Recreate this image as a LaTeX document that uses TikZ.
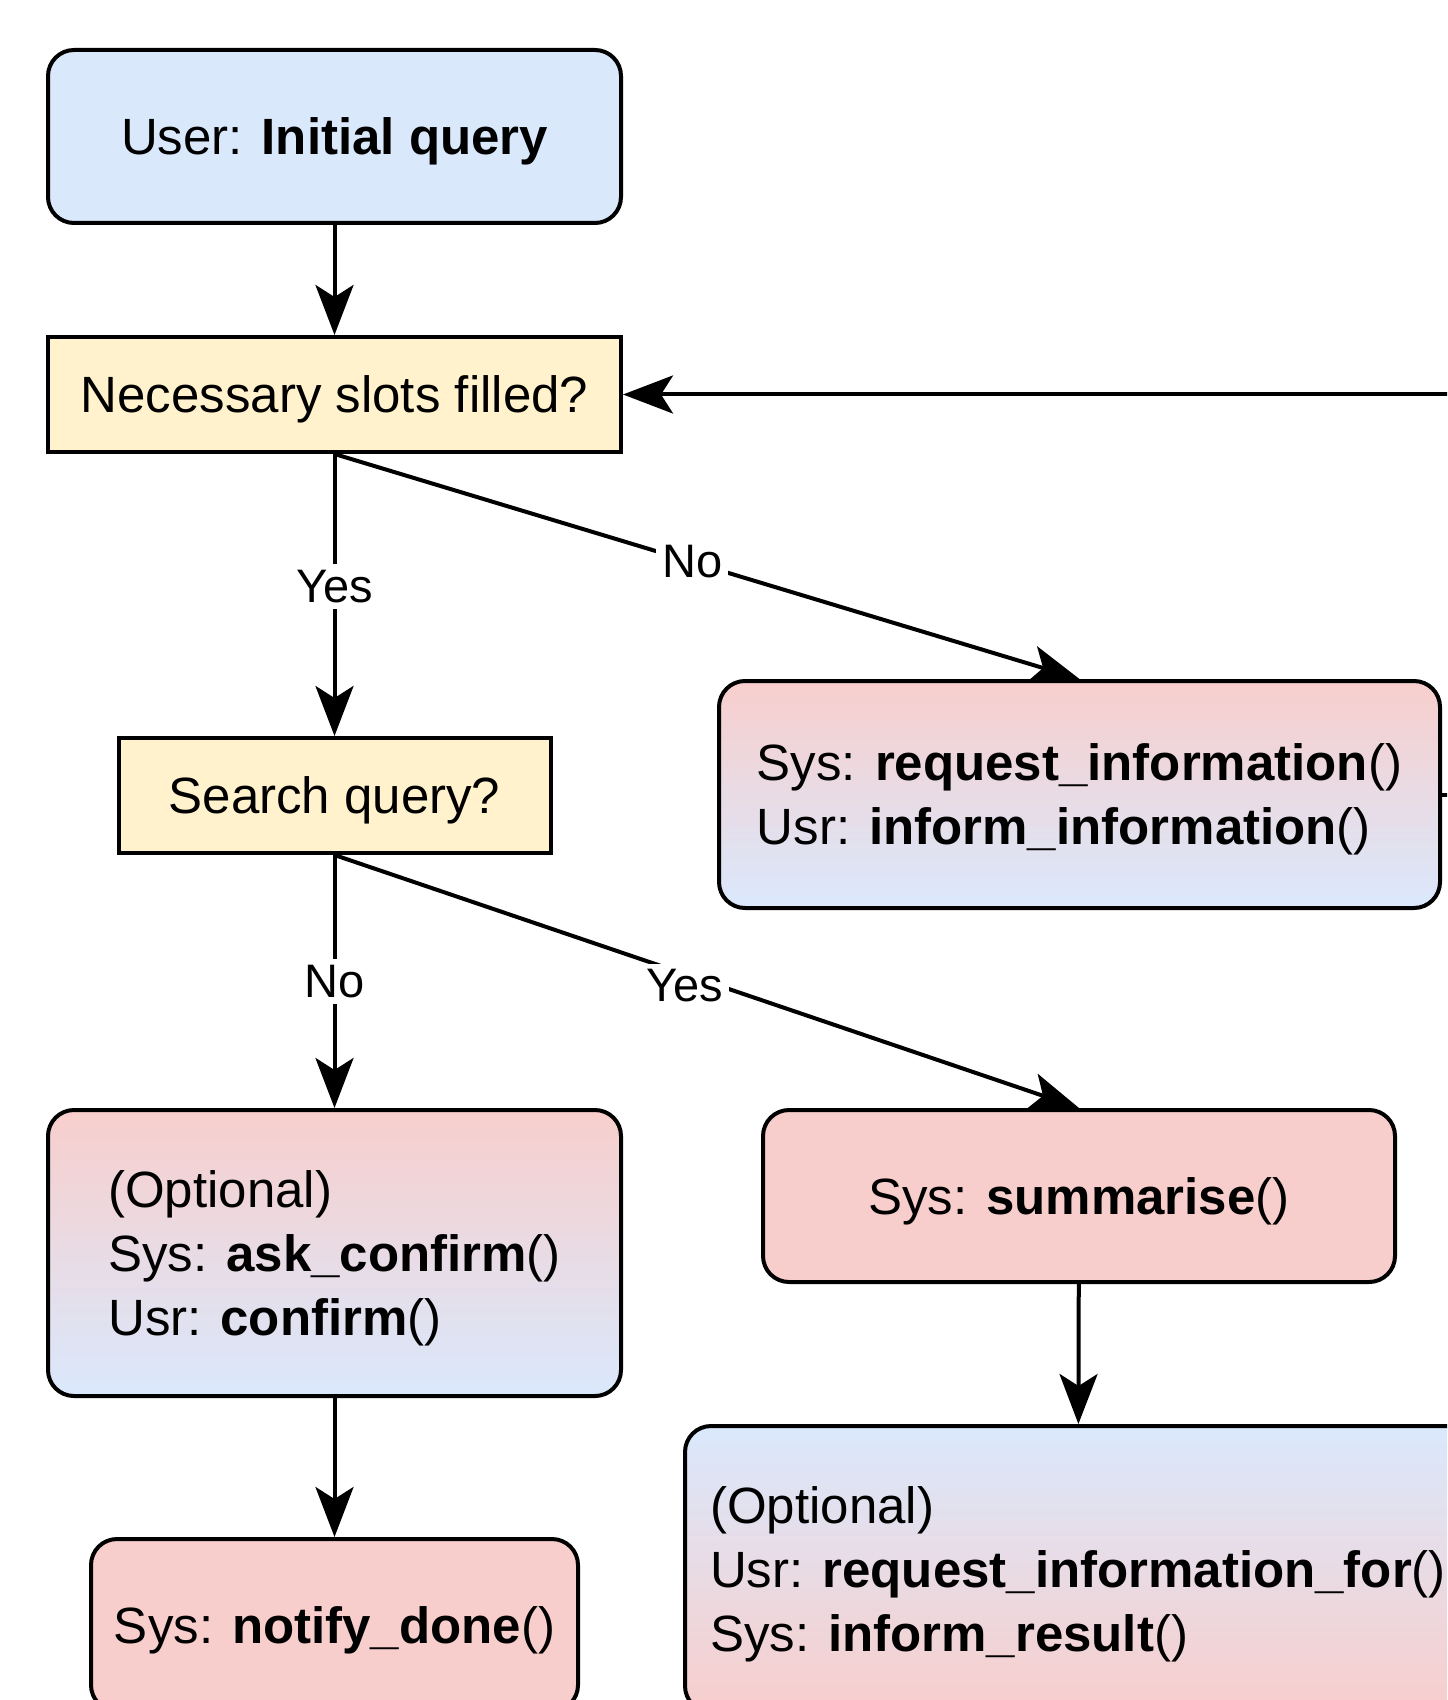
\documentclass[tikz,border=0pt]{standalone}
\usepackage{fontspec}
\setmainfont{Liberation Sans}
\usetikzlibrary{positioning,arrows.meta}
\definecolor{bluefill}{HTML}{DAE8FC}
\definecolor{redfill}{HTML}{F8CECC}
\definecolor{yellowfill}{HTML}{FFF2CC}
\tikzset{
box/.style={draw=black, line width=2pt, align=left, inner sep=0pt, text depth=0pt,
    font=\fontsize{25.5}{32}\selectfont},
rbox/.style={box, rounded corners=13pt},
qbox/.style={box, fill=yellowfill},
lbl/.style={fill=white, inner sep=3pt, font=\fontsize{23.5}{28}\selectfont},
flow/.style={line width=2pt, -{Stealth[length=25pt,width=19pt,inset=6pt]}}
}

\begin{document}
\begin{tikzpicture}[x=0.5pt,y=-0.5pt]
\clip (0,0) rectangle (1447,1700);

\node[rbox, fill=bluefill, minimum width=286.5pt, minimum height=86.5pt, text depth=-8pt] (init) at (334.5,136.5) {User: \textbf{Initial query}};
\node[qbox, minimum width=286.5pt, minimum height=57.5pt] (slots) at (334.5,394.5) {Necessary slots filled?};
\node[qbox, minimum width=216pt, minimum height=57.5pt] (search) at (334.5,795.5) {Search query?};
\node[rbox, top color=redfill, bottom color=bluefill, minimum width=360.5pt, minimum height=113.5pt] (reqinfo) at (1079.5,794.5)
    {Sys: \textbf{request\_information}()\\Usr: \textbf{inform\_information}()};
\node[rbox, top color=redfill, bottom color=bluefill, minimum width=286.5pt, minimum height=143pt] (confirm) at (334.5,1253)
    {(Optional)\\Sys: \textbf{ask\_confirm}()\\Usr: \textbf{confirm}()};
\node[rbox, fill=redfill, minimum width=316pt, minimum height=86pt] (summ) at (1079,1196) {Sys: \textbf{summarise}()};
\node[rbox, top color=bluefill, bottom color=redfill, minimum width=393pt, minimum height=143pt] (result) at (1078,1569)
    {(Optional)\\Usr: \textbf{request\_information\_for}()\\Sys: \textbf{inform\_result}()};
\node[rbox, fill=redfill, minimum width=243.5pt, minimum height=86pt] (done) at (334.5,1625) {Sys: \textbf{notify\_done}()};

\draw[flow] (init) -- (slots);
\draw[flow] (slots) -- node[lbl,pos=0.47]{Yes} (search);
\draw[flow] (slots.south) -- node[lbl,pos=0.48]{No} (reqinfo.north);
\draw[flow] (search) -- node[lbl]{No} (confirm);
\draw[flow] (search.south) -- node[lbl,pos=0.47,yshift=-6pt]{Yes} (summ.north);
\draw[flow] (summ) -- (result);
\draw[flow] (confirm) -- (done);
\draw[flow] (reqinfo.east) -- ++(40,0) |- (slots.east);
\end{tikzpicture}
\end{document}
